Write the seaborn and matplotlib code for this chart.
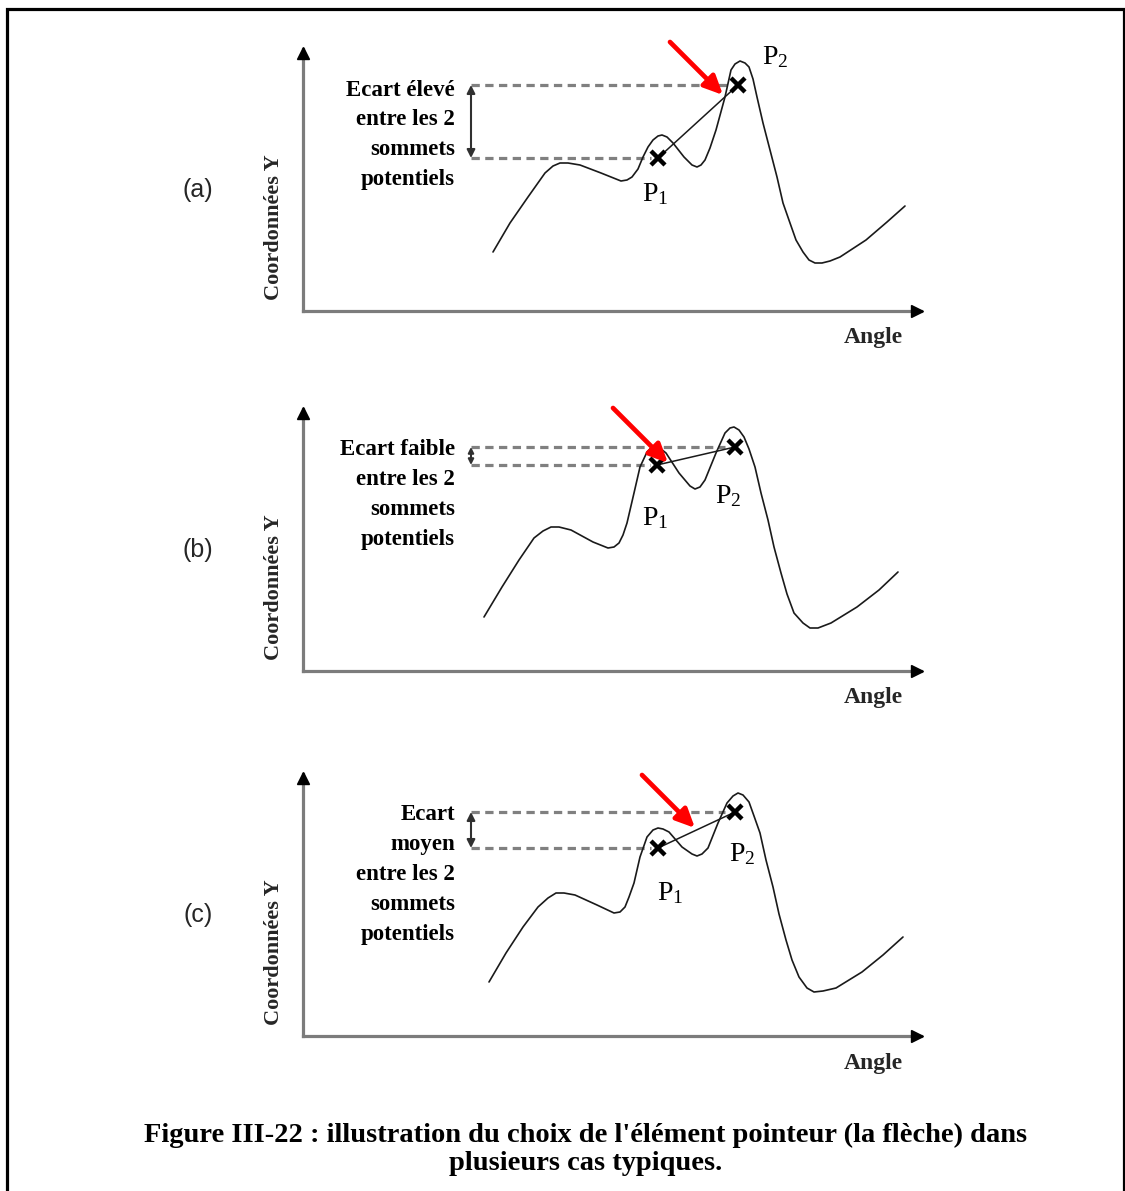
import numpy as np
import pandas as pd
import matplotlib
matplotlib.use("Agg")
import matplotlib.pyplot as plt
import seaborn as sns

# ---------------- data (panel-local units: angle to the right, Y upward) ----------------
panel_labels = ["(a)", "(b)", "(c)"]
ecart_texts = [
    ["Ecart élevé", "entre les 2", "sommets", "potentiels"],
    ["Ecart faible", "entre les 2", "sommets", "potentiels"],
    ["Ecart", "moyen", "entre les 2", "sommets", "potentiels"],
]
x_label = "Angle"
y_label = "Coordonnées Y"
caption_lines = [
    "Figure III-22 : illustration du choix de l'élément pointeur (la flèche) dans",
    "plusieurs cas typiques.",
]

angle_a = [190, 207, 225, 242, 250, 257, 265, 277, 298, 318, 324, 329, 335, 340, 345, 350, 355, 359,
           364, 370, 381, 389, 394, 398, 402, 407, 413, 422, 428, 432, 437, 442, 446, 450, 454, 460,
           467, 474, 480, 487, 493, 500, 506, 512, 519, 527, 537, 563, 584, 602]
coord_a = [59, 88, 114, 138, 145, 148, 148, 146, 138, 130, 131, 134, 142, 154, 164, 171, 175, 176,
           174, 168, 154, 146, 144, 146, 151, 163, 181, 214, 241, 247, 250, 248, 244, 232, 214, 188,
           161, 134, 108, 88, 71, 59, 51, 48, 48, 50, 54, 71, 89, 105]

angle_b = [181, 199, 216, 231, 240, 248, 256, 268, 290, 305, 311, 316, 320, 324, 331, 337, 344, 348,
           353, 358, 363, 376, 387, 392, 397, 402, 413, 422, 427, 431, 436, 441, 446, 452, 458, 465,
           471, 478, 484, 491, 500, 507, 515, 528, 554, 576, 595]
coord_b = [54, 84, 111, 133, 140, 144, 144, 141, 129, 123, 124, 128, 136, 148, 178, 204, 219, 223,
           224, 222, 218, 198, 185, 182, 184, 191, 218, 238, 243, 244, 241, 234, 222, 204, 178, 151,
           124, 98, 77, 58, 48, 43, 43, 48, 64, 81, 99]

angle_c = [186, 203, 220, 235, 245, 253, 261, 272, 294, 311, 317, 322, 326, 331, 337, 344, 350, 355,
           360, 366, 379, 389, 394, 399, 405, 415, 424, 430, 435, 440, 446, 451, 457, 463, 470, 476,
           483, 489, 496, 504, 511, 520, 533, 559, 580, 600]
coord_c = [54, 83, 109, 129, 138, 143, 143, 141, 131, 123, 124, 129, 139, 153, 179, 199, 206, 208,
           207, 204, 189, 182, 180, 182, 188, 213, 233, 240, 243, 241, 234, 220, 203, 176, 149, 122,
           96, 76, 59, 48, 44, 45, 48, 64, 81, 99]

curves_angle = [angle_a, angle_b, angle_c]
curves_coord = [coord_a, coord_b, coord_c]

# candidate summits P1, P2
p1_angle = [355, 354, 355]
p1_coord = [153, 206, 188]
p2_angle = [435, 432, 432]
p2_coord = [226, 224, 224]

# red pointer arrows (start -> tip)
ptr_start_angle = [367, 310, 339]
ptr_start_coord = [269, 263, 261]
ptr_tip_angle = [420, 365, 392]
ptr_tip_coord = [216, 208, 208]

# ---------------- layout / style ----------------
FIG_W, FIG_H = 1125, 1191
ORIGIN_X = 303
ORIGIN_Y = [311, 671, 1036]
AX_W, AX_H = 618, 262

AXIS_GRAY = "#7c7c7c"
DASH_GRAY = "#808080"

sns.set_theme(style="white")
plt.rcParams["font.family"] = ["Liberation Serif", "DejaVu Serif"]
plt.rcParams["mathtext.fontset"] = "custom"
plt.rcParams["mathtext.rm"] = "Liberation Serif"
plt.rcParams["mathtext.it"] = "Liberation Serif:italic"

fig = plt.figure(figsize=(FIG_W / 100, FIG_H / 100), dpi=100)
fig.patch.set_facecolor("white")

# background axes in pixel units for frame and caption
bg = fig.add_axes([0, 0, 1, 1])
bg.set_xlim(0, FIG_W)
bg.set_ylim(FIG_H, 0)
bg.axis("off")
bg.plot([7, 7, 1123.5, 1123.5], [FIG_H + 5, 9, 9, FIG_H + 5], color="black", lw=2.3,
        solid_joinstyle="miter", clip_on=False)
bg.text(586, 1142, caption_lines[0], ha="center", va="baseline", fontsize=20.5,
        fontweight="bold", color="black")
bg.text(586, 1170, caption_lines[1], ha="center", va="baseline", fontsize=20.5,
        fontweight="bold", color="black")

for i in range(3):
    oy = ORIGIN_Y[i]
    ax = fig.add_axes([ORIGIN_X / FIG_W, 1 - oy / FIG_H, AX_W / FIG_W, AX_H / FIG_H])
    ax.set_xlim(0, AX_W)
    ax.set_ylim(0, AX_H)
    ax.patch.set_alpha(0)
    ax.set_xticks([])
    ax.set_yticks([])
    for s in ["top", "right"]:
        ax.spines[s].set_visible(False)
    for s in ["left", "bottom"]:
        ax.spines[s].set_color(AXIS_GRAY)
        ax.spines[s].set_linewidth(2.3)
    # arrowheads of the axes
    ax.plot([AX_W - 4], [0], marker=">", color="black", markersize=9, clip_on=False, zorder=5)
    ax.plot([0], [AX_H - 4], marker="^", color="black", markersize=9, clip_on=False, zorder=5)

    # dashed guide lines
    ax.plot([168, p2_angle[i] - 10], [p2_coord[i], p2_coord[i]], color=DASH_GRAY, lw=2.3,
            linestyle=(0, (2.6, 1.7)), zorder=1, clip_on=False)
    ax.plot([168, p1_angle[i] - 7], [p1_coord[i], p1_coord[i]], color=DASH_GRAY, lw=2.3,
            linestyle=(0, (2.6, 1.7)), zorder=1, clip_on=False)

    # curve
    df = pd.DataFrame({"angle": curves_angle[i], "coord": curves_coord[i]})
    sns.lineplot(data=df, x="angle", y="coord", ax=ax, color="#1a1a1a", lw=1.2,
                 sort=False, estimator=None, zorder=3)
    ax.set_xlabel("")
    ax.set_ylabel("")

    # line joining candidates
    ax.plot([p1_angle[i], p2_angle[i]], [p1_coord[i], p2_coord[i]], color="#1a1a1a", lw=1.1, zorder=3)
    # candidate markers
    ax.plot([p1_angle[i], p2_angle[i]], [p1_coord[i], p2_coord[i]], linestyle="none",
            marker="x", color="black", markersize=10, mew=3.2, zorder=4)

    # double arrow showing the gap
    gap = p2_coord[i] - p1_coord[i]
    ms = 12 if gap > 30 else 8
    ax.annotate("", xy=(168, p1_coord[i]), xytext=(168, p2_coord[i]),
                arrowprops=dict(arrowstyle="<|-|>", color="#303030", lw=1.5,
                                mutation_scale=ms, shrinkA=0, shrinkB=0),
                annotation_clip=False)

    # red pointer arrow
    ax.annotate("", xy=(ptr_tip_angle[i], ptr_tip_coord[i]),
                xytext=(ptr_start_angle[i], ptr_start_coord[i]),
                arrowprops=dict(arrowstyle="-|>,head_length=0.75,head_width=0.35",
                                color="#ff0000", lw=3.4, mutation_scale=15,
                                shrinkA=0, shrinkB=0),
                annotation_clip=False, zorder=6)

    # explanatory text
    for k, line in enumerate(ecart_texts[i]):
        ax.text(152, 221 - k * 29.8, line, ha="right", va="center", fontsize=16.5,
                fontweight="bold", color="black", clip_on=False)

    # P labels
    p1_lbl = [(352, 117), (352, 153), (367, 143)][i]
    p2_lbl = [(472, 254), (425, 175), (439, 182)][i]
    ax.text(*p1_lbl, r"P$_1$", ha="center", va="center", fontsize=20, color="black")
    ax.text(*p2_lbl, r"P$_2$", ha="center", va="center", fontsize=20, color="black")

    # axis labels
    ax.text(570, -27, x_label, ha="center", va="center", fontsize=17, fontweight="bold",
            clip_on=False)
    ax.text(-29, 84, y_label, ha="center", va="center", fontsize=16, fontweight="bold",
            rotation=90, clip_on=False)
    ax.text(-105, 121, panel_labels[i], ha="center", va="center", fontsize=18,
            family=["Liberation Sans", "DejaVu Sans"], clip_on=False)

fig.savefig("out.png", dpi=100, facecolor="white")
